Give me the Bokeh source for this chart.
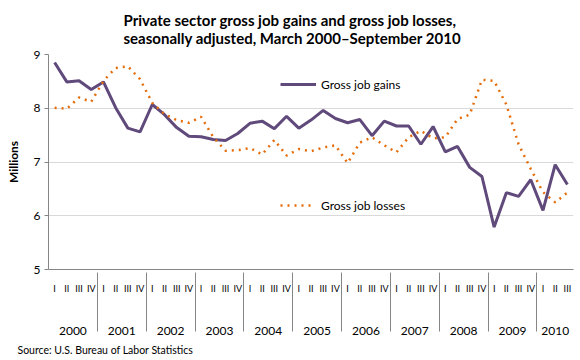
from bokeh.plotting import figure
from bokeh.models import (FactorRange, Range1d, Legend, LegendItem, Title, FixedTicker)
from bokeh.embed import file_html
from bokeh.resources import INLINE

years = ["2000", "2001", "2002", "2003", "2004", "2005", "2006", "2007", "2008", "2009", "2010"]
quarters = ["I", "II", "III", "IV"]
last_year_quarters = ["I", "II", "III"]

gains = [8.85, 8.49, 8.51, 8.35, 8.49, 8.01, 7.63, 7.56, 8.07, 7.88,
         7.64, 7.48, 7.47, 7.42, 7.40, 7.53, 7.72, 7.76, 7.62, 7.85,
         7.63, 7.78, 7.96, 7.81, 7.73, 7.79, 7.49, 7.76, 7.67, 7.67,
         7.33, 7.66, 7.19, 7.29, 6.90, 6.73, 5.79, 6.43, 6.36, 6.67,
         6.10, 6.95, 6.58]
losses = [8.01, 7.99, 8.20, 8.12, 8.51, 8.75, 8.78, 8.54, 8.10, 7.89,
          7.78, 7.73, 7.84, 7.46, 7.21, 7.22, 7.26, 7.14, 7.41, 7.12,
          7.24, 7.20, 7.27, 7.31, 6.98, 7.36, 7.46, 7.31, 7.18, 7.46,
          7.58, 7.44, 7.46, 7.80, 7.88, 8.53, 8.51, 8.07, 7.33, 6.87,
          6.44, 6.25, 6.43]

title_text = ("Private sector gross job gains and gross job losses,\n"
              "seasonally adjusted, March 2000\u2013September 2010")
source_text = "Source: U.S. Bureau of Labor Statistics"

# (year, spacer level, quarter) -- the blank middle level only adds the gap
# between the quarter row and the year row
SPACER = " "
factors = []
for y in years:
    qs = last_year_quarters if y == "2010" else quarters
    for q in qs:
        factors.append((y, SPACER, q))

FONT = "Lato"

p = figure(width=580, height=360, output_backend="svg", toolbar_location=None,
           x_range=FactorRange(*factors, range_padding=0, group_padding=0,
                               subgroup_padding=0, factor_padding=0),
           y_range=Range1d(5, 9),
           min_border_left=48, min_border_right=7, min_border_top=53, min_border_bottom=91)

p.title.text = title_text
p.title.align = "left"
p.title.offset = 75
p.title.standoff = 16
p.title.text_font = FONT
p.title.text_font_size = "15px"
p.title.text_font_style = "bold"
p.title.text_color = "black"

p.add_layout(Title(text=source_text, align="left", offset=-31, standoff=8,
                   text_font=FONT, text_font_size="10.5px", text_font_style="normal",
                   text_color="black"), "below")

p.outline_line_color = None
p.background_fill_color = "white"
p.border_fill_color = "white"

p.xgrid.grid_line_color = None
p.ygrid.grid_line_color = "#d9d9d9"
p.ygrid.ticker = FixedTicker(ticks=[5, 6, 7, 8, 9])

p.yaxis.ticker = FixedTicker(ticks=[5, 6, 7, 8, 9])
p.yaxis.axis_line_color = "#868686"
p.yaxis.major_tick_line_color = "#868686"
p.yaxis.major_tick_in = 0
p.yaxis.major_tick_out = 4
p.yaxis.minor_tick_line_color = None
p.yaxis.major_label_text_font = FONT
p.yaxis.major_label_text_font_size = "12px"
p.yaxis.major_label_text_color = "black"
p.yaxis.major_label_standoff = 4
p.yaxis.axis_label = "Millions"
p.yaxis.axis_label_text_font = FONT
p.yaxis.axis_label_text_font_size = "12px"
p.yaxis.axis_label_text_font_style = "bold"
p.yaxis.axis_label_text_color = "black"
p.yaxis.axis_label_standoff = 10

xa = p.xaxis[0]
xa.axis_line_color = "#868686"
xa.major_tick_line_color = None
xa.major_tick_in = 0
xa.major_tick_out = 0
xa.minor_tick_out = 0
xa.major_label_text_font = FONT
xa.major_label_text_font_size = "9px"
xa.major_label_text_color = "black"
xa.major_label_standoff = 13
xa.subgroup_text_font = FONT
xa.subgroup_text_font_size = "1px"
xa.subgroup_text_color = "black"
xa.group_text_font = FONT
xa.group_text_font_size = "12px"
xa.group_text_font_style = "normal"
xa.group_text_color = "black"
xa.separator_line_color = "#868686"
xa.separator_line_width = 1

r_gain = p.line(factors, gains, line_color="#604a7b", line_width=3)
r_loss = p.line(factors, losses, line_color="#e46c0a", line_width=2.5,
                line_dash="2 5")

leg1 = Legend(items=[LegendItem(label="Gross job gains", renderers=[r_gain])],
              location=(232, 175), glyph_width=36, glyph_height=20, label_standoff=5,
              padding=0, margin=0, border_line_color=None, background_fill_alpha=0,
              label_text_font=FONT, label_text_font_size="12px", label_text_color="black")
leg2 = Legend(items=[LegendItem(label="Gross job losses", renderers=[r_loss])],
              location=(232, 54), glyph_width=34, glyph_height=20, label_standoff=7,
              padding=0, margin=0, border_line_color=None, background_fill_alpha=0,
              label_text_font=FONT, label_text_font_size="12px", label_text_color="black")
p.add_layout(leg1, "center")
p.add_layout(leg2, "center")

open("out.html", "w").write(file_html(p, INLINE))
